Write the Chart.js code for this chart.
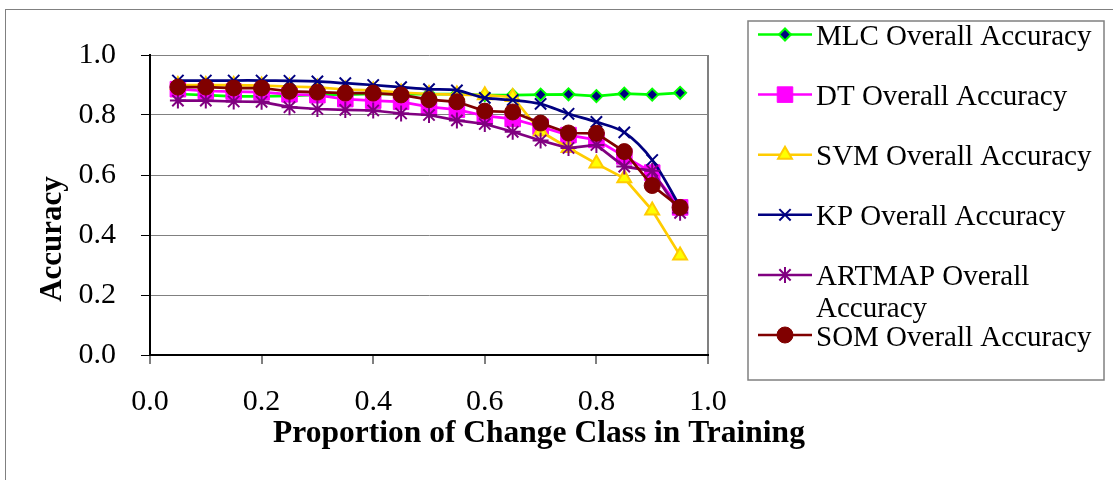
<!DOCTYPE html>
<html>
<head>
<meta charset="utf-8">
<title>Overall Accuracy vs Proportion of Change Class</title>
<script src="https://cdn.jsdelivr.net/npm/chart.js@4.4.1/dist/chart.umd.min.js"></script>
<style>
    html, body { margin: 0; padding: 0; background: #ffffff; }
    #wrap { width: 1113px; height: 480px; position: relative; }
</style>
</head>
<body>
<div id="wrap"><canvas id="accChart" width="1113" height="480"></canvas></div>
<script>
// Proportion of change class in training (x values)
const proportions = [0.05, 0.10, 0.15, 0.20, 0.25, 0.30, 0.35, 0.40, 0.45, 0.50,
                     0.55, 0.60, 0.65, 0.70, 0.75, 0.80, 0.85, 0.90, 0.95];

// Overall accuracy per classifier
const mlcAcc    = [0.870, 0.866, 0.862, 0.862, 0.864, 0.868, 0.868, 0.870, 0.870, 0.870,
                   0.870, 0.866, 0.866, 0.868, 0.869, 0.863, 0.871, 0.868, 0.874];
const dtAcc     = [0.886, 0.880, 0.878, 0.876, 0.869, 0.866, 0.853, 0.848, 0.844, 0.827,
                   0.818, 0.797, 0.787, 0.761, 0.733, 0.717, 0.662, 0.608, 0.492];
const svmAcc    = [0.900, 0.900, 0.900, 0.898, 0.895, 0.892, 0.885, 0.882, 0.875, 0.870,
                   0.868, 0.866, 0.860, 0.745, 0.690, 0.638, 0.589, 0.482, 0.332];
const kpAcc     = [0.915, 0.915, 0.915, 0.915, 0.914, 0.912, 0.906, 0.900, 0.893, 0.886,
                   0.882, 0.857, 0.850, 0.837, 0.804, 0.777, 0.742, 0.650, 0.494];
const artmapAcc = [0.848, 0.848, 0.845, 0.844, 0.826, 0.820, 0.817, 0.815, 0.805, 0.800,
                   0.782, 0.770, 0.744, 0.715, 0.690, 0.700, 0.628, 0.614, 0.474];
const somAcc    = [0.893, 0.893, 0.890, 0.890, 0.879, 0.876, 0.873, 0.873, 0.867, 0.851,
                   0.844, 0.813, 0.810, 0.773, 0.740, 0.739, 0.678, 0.565, 0.492];

const seriesNames = ['MLC Overall Accuracy', 'DT Overall Accuracy', 'SVM Overall Accuracy',
                     'KP Overall Accuracy', 'ARTMAP Overall Accuracy', 'SOM Overall Accuracy'];

// Axis ticks
const xTicks = [0.0, 0.2, 0.4, 0.6, 0.8, 1.0];
const yTicks = [0.0, 0.2, 0.4, 0.6, 0.8, 1.0];

const xTitle = 'Proportion of Change Class in Training';
const yTitle = 'Accuracy';

const SERIF = "'Liberation Serif', 'Times New Roman', serif";

// Build {x, y} points for a linear x axis
function toPoints(values) {
    return values.map((v, i) => ({ x: proportions[i], y: v }));
}

// Series styles (Excel-like)
const styles = [
    { line: '#00ff00', fill: '#000080', edge: '#00ff00', shape: 'rectRot',  r: 6,  bw: 2,   tension: 0 },
    { line: '#ff00ff', fill: '#ff00ff', edge: '#ff00ff', shape: 'rect',     r: 11, bw: 1,   tension: 0 },
    { line: '#ffcc00', fill: '#ffff00', edge: '#ffcc00', shape: 'triangle', r: 8,  bw: 2,   tension: 0 },
    { line: '#000080', fill: '#000080', edge: '#000080', shape: 'crossRot', r: 8,  bw: 2,   tension: 0.33 },
    { line: '#800080', fill: '#800080', edge: '#800080', shape: 'star',     r: 8,  bw: 2,   tension: 0 },
    { line: '#800000', fill: '#800000', edge: '#800000', shape: 'circle',   r: 8,  bw: 1,   tension: 0 }
];

const allValues = [mlcAcc, dtAcc, svmAcc, kpAcc, artmapAcc, somAcc];

const datasets = allValues.map((vals, i) => ({
    label: seriesNames[i],
    data: toPoints(vals),
    borderColor: styles[i].line,
    borderWidth: 2.75,
    backgroundColor: styles[i].fill,
    pointStyle: styles[i].shape,
    pointRadius: styles[i].r,
    pointBackgroundColor: styles[i].fill,
    pointBorderColor: styles[i].edge,
    pointBorderWidth: styles[i].bw,
    tension: styles[i].tension,
    fill: false,
    // later series drawn on top, like Excel
    order: allValues.length - 1 - i
}));

// Chart frame, titles and legend box
const decorPlugin = {
    id: 'decor',
    beforeDraw(chart) {
        const ctx = chart.ctx;
        ctx.save();
        ctx.fillStyle = '#ffffff';
        ctx.fillRect(0, 0, chart.width, chart.height);
        ctx.strokeStyle = '#808080';
        ctx.lineWidth = 1;
        ctx.strokeRect(5.5, 9.5, chart.width + 20, chart.height + 20);
        ctx.restore();
    },
    afterDraw(chart) {
        const ctx = chart.ctx;
        ctx.save();

        // axis titles
        ctx.fillStyle = '#000000';
        ctx.font = 'bold 31.5px ' + SERIF;
        ctx.textAlign = 'center';
        ctx.textBaseline = 'alphabetic';
        ctx.fillText(xTitle, 539, 442);

        ctx.font = 'bold 31px ' + SERIF;
        ctx.save();
        ctx.translate(61, 239);
        ctx.rotate(-Math.PI / 2);
        ctx.fillText(yTitle, 0, 0);
        ctx.restore();

        // legend box
        const box = { left: 748, top: 21, right: 1104, bottom: 380 };
        ctx.strokeStyle = '#808080';
        ctx.lineWidth = 1.5;
        ctx.strokeRect(box.left, box.top, box.right - box.left, box.bottom - box.top);

        ctx.font = '29px ' + SERIF;
        ctx.textAlign = 'left';
        chart.data.datasets.forEach((ds, i) => {
            const y = 34.5 + i * 60.1;
            ctx.strokeStyle = ds.borderColor;
            ctx.lineWidth = 2.5;
            ctx.beginPath();
            ctx.moveTo(758, y);
            ctx.lineTo(812, y);
            ctx.stroke();

            ctx.fillStyle = ds.pointBackgroundColor;
            ctx.strokeStyle = ds.pointBorderColor;
            ctx.lineWidth = ds.pointBorderWidth;
            Chart.helpers.drawPoint(ctx, {
                pointStyle: ds.pointStyle,
                radius: ds.pointRadius,
                rotation: 0,
                borderWidth: ds.pointBorderWidth
            }, 785, y);

            // wrap long labels inside the box
            ctx.fillStyle = '#000000';
            const maxW = box.right - 816 - 6;
            const words = ds.label.split(' ');
            const lines = [];
            let cur = '';
            words.forEach(w => {
                const test = cur ? cur + ' ' + w : w;
                if (ctx.measureText(test).width > maxW && cur) {
                    lines.push(cur);
                    cur = w;
                } else {
                    cur = test;
                }
            });
            lines.push(cur);
            lines.forEach((t, k) => ctx.fillText(t, 816, y + 10.5 + k * 32));
        });

        ctx.restore();
    }
};

new Chart(document.getElementById('accChart'), {
    type: 'line',
    data: { datasets: datasets },
    plugins: [decorPlugin],
    options: {
        responsive: false,
        animation: false,
        layout: { padding: { left: 0, top: 55, right: 405, bottom: 0 } },
        plugins: {
            legend: { display: false },
            tooltip: { enabled: false }
        },
        scales: {
            x: {
                type: 'linear',
                min: 0,
                max: 1,
                afterBuildTicks: (scale) => { scale.ticks = xTicks.map(v => ({ value: v })); },
                afterFit: (scale) => { scale.height = 125; },
                ticks: {
                    color: '#000000',
                    font: { family: SERIF, size: 30 },
                    padding: 20,
                    maxRotation: 0,
                    callback: (v) => v.toFixed(1)
                },
                grid: {
                    drawOnChartArea: true,
                    color: (c) => (c.tick && c.tick.value === 1 ? '#808080' : 'rgba(0,0,0,0)'),
                    lineWidth: 2,
                    tickColor: '#000000',
                    tickWidth: 1,
                    tickLength: 9
                },
                border: { color: '#000000', width: 2 }
            },
            y: {
                min: 0,
                max: 1,
                afterBuildTicks: (scale) => { scale.ticks = yTicks.map(v => ({ value: v })); },
                afterFit: (scale) => { scale.width = 150; },
                ticks: {
                    color: '#000000',
                    font: { family: SERIF, size: 30 },
                    padding: 25,
                    callback: (v) => v.toFixed(1)
                },
                grid: {
                    color: '#808080',
                    lineWidth: 1,
                    tickColor: '#000000',
                    tickWidth: 1,
                    tickLength: 9
                },
                border: { color: '#000000', width: 2 }
            }
        }
    }
});
</script>
</body>
</html>
